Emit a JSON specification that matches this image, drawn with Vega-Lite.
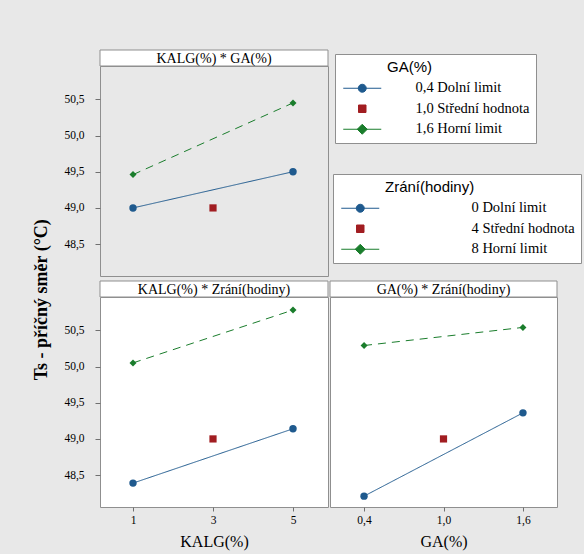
{
  "$schema": "https://vega.github.io/schema/vega-lite/v6.json",
  "padding": {"left": 33, "top": 49, "right": 2, "bottom": 4},
  "background": "#e8e8e8",
  "title": {"text": "Ts - příčný směr (°C)", "orient": "left", "anchor": "middle", "font": "Liberation Serif", "fontSize": 18, "fontWeight": "bold", "color": "black", "offset": 12},
  "datasets": {
    "kg": [
      {"KALG": 1, "GA": "0,4", "Ts": 49.0},
      {"KALG": 5, "GA": "0,4", "Ts": 49.5},
      {"KALG": 3, "GA": "1,0", "Ts": 49.0},
      {"KALG": 1, "GA": "1,6", "Ts": 49.46},
      {"KALG": 5, "GA": "1,6", "Ts": 50.45}
    ],
    "kz": [
      {"KALG": 1, "Zrani": "0", "Ts": 48.39},
      {"KALG": 5, "Zrani": "0", "Ts": 49.14},
      {"KALG": 3, "Zrani": "4", "Ts": 49.0},
      {"KALG": 1, "Zrani": "8", "Ts": 50.05},
      {"KALG": 5, "Zrani": "8", "Ts": 50.78}
    ],
    "gz": [
      {"GA": 0.4, "Zrani": "0", "Ts": 48.21},
      {"GA": 1.6, "Zrani": "0", "Ts": 49.36},
      {"GA": 1.0, "Zrani": "4", "Ts": 49.0},
      {"GA": 0.4, "Zrani": "8", "Ts": 50.29},
      {"GA": 1.6, "Zrani": "8", "Ts": 50.54}
    ],
    "galev": [{"GAlev": "0,4 Dolní limit"}, {"GAlev": "1,0 Střední hodnota"}, {"GAlev": "1,6 Horní limit"}],
    "zlev": [{"Zlev": "0 Dolní limit"}, {"Zlev": "4 Střední hodnota"}, {"Zlev": "8 Horní limit"}]
  },
  "resolve": {"scale": {"color": "independent", "fill": "independent", "shape": "independent", "strokeDash": "independent", "size": "independent"}},
  "spacing": 3,
  "config": {
    "view": {"stroke": "#8f8f8f", "fill": "white"},
    "axis": {"labelFont": "Liberation Serif", "titleFont": "Liberation Serif", "labelColor": "black", "titleColor": "black", "tickColor": "#707070", "domain": false, "grid": false, "titleFontWeight": "normal", "labelFontSize": 11.5, "titleFontSize": 16},
    "legend": {
      "direction": "vertical", "padding": 6, "strokeColor": "#8f8f8f", "fillColor": "white",
      "titleFont": "Liberation Sans", "titleFontSize": 15, "titleFontWeight": "normal", "titleColor": "black", "titlePadding": 6,
      "labelFont": "Liberation Serif", "labelFontSize": 14.5, "labelColor": "black", "labelLimit": 400,
      "symbolSize": 100, "symbolOffset": 14, "rowPadding": 5.5,
      "labelExpr": "replace(datum.value, ' ', '\u2002')"
    }
  },
  "vconcat": [
    {
      "bounds": "flush",
      "spacing": 0,
      "resolve": {"scale": {"color": "independent", "fill": "independent", "shape": "independent", "strokeDash": "independent", "size": "independent"}},
      "vconcat": [
        {
          "width": 228, "height": 16,
          "data": {"values": [{"t": "KALG(%) * GA(%)"}]},
          "layer": [
            {"mark": {"type": "rect", "fill": "white", "stroke": "#8f8f8f", "strokeWidth": 1}, "encoding": {}},
            {"mark": {"type": "text", "font": "Liberation Serif", "fontSize": 14, "baseline": "middle", "color": "black", "dy": 1}, "encoding": {"text": {"field": "t"}}}
          ]
        },
        {
          "width": 228, "height": 210,
          "resolve": {"scale": {"fill": "independent"}, "legend": {"fill": "independent"}},
          "layer": [
            {
              "data": {"name": "kg"},
              "mark": {"type": "line", "strokeWidth": 1},
              "encoding": {
                "x": {"field": "KALG", "type": "quantitative", "scale": {"domain": [0.175, 5.875], "nice": false, "zero": false}, "axis": null},
                "y": {"field": "Ts", "type": "quantitative", "scale": {"domain": [48.06, 50.96], "nice": false, "zero": false}, "axis": {"values": [48.5, 49, 49.5, 50, 50.5], "labelExpr": "replace(format(datum.value, '.1f'), '.', ',')", "title": null, "tickSize": 5, "labelPadding": 11}},
                "color": {"field": "GA", "type": "nominal", "scale": {"domain": ["0,4", "1,0", "1,6"], "range": ["#1f5a8e", "#a11d21", "#1a7d2c"]}, "legend": null},
                "strokeDash": {"field": "GA", "type": "nominal", "scale": {"domain": ["0,4", "1,0", "1,6"], "range": [[1, 0], [1, 0], [8, 6]]}, "legend": null}
              }
            },
            {
              "data": {"name": "kg"},
              "mark": {"type": "point", "filled": true, "opacity": 1},
              "encoding": {
                "x": {"field": "KALG", "type": "quantitative"},
                "y": {"field": "Ts", "type": "quantitative"},
                "color": {"field": "GA", "type": "nominal", "legend": null},
                "shape": {"field": "GA", "type": "nominal", "scale": {"domain": ["0,4", "1,0", "1,6"], "range": ["circle", "square", "diamond"]}, "legend": null},
                "size": {"field": "GA", "type": "nominal", "scale": {"domain": ["0,4", "1,0", "1,6"], "range": [55, 49, 120]}, "legend": null}
              }
            },
            {
              "data": {"name": "galev"},
              "mark": {"type": "point", "filled": true, "opacity": 0},
              "encoding": {
                "fill": {"field": "GAlev", "type": "nominal", "scale": {"domain": ["0,4 Dolní limit", "1,0 Střední hodnota", "1,6 Horní limit"], "range": ["#1f5a8e", "#a11d21", "#1a7d2c"]},
                  "legend": {
                    "title": "GA(%)", "orient": "none", "legendX": 235, "legendY": -12,
                    "labelOffset": 46,
                    "encode": {
                      "symbols": {"update": {
                        "shape": {"signal": "indexof(datum.value, 'Dolní') >= 0 ? 'M-3.8,0H3.8M-0.8,0A0.8,0.8,0,1,0,0.8,0A0.8,0.8,0,1,0,-0.8,0Z' : indexof(datum.value, 'Střední') >= 0 ? 'M-0.75,-0.75H0.75V0.75H-0.75Z' : 'M-3.8,0H3.8M-1,0L0,-1L1,0L0,1Z'"},
                        "fill": {"signal": "indexof(datum.value, 'Dolní') >= 0 ? '#1f5a8e' : indexof(datum.value, 'Střední') >= 0 ? '#a11d21' : '#1a7d2c'"},
                        "stroke": {"signal": "indexof(datum.value, 'Dolní') >= 0 ? '#1f5a8e' : indexof(datum.value, 'Střední') >= 0 ? '#a11d21' : '#1a7d2c'"},
                        "strokeWidth": {"value": 1},
                        "opacity": {"value": 1}
                      }},
                      "title": {"update": {"dx": {"value": 46}}}
                    }
                  }
                }
              }
            },
            {
              "data": {"name": "zlev"},
              "mark": {"type": "point", "filled": true, "opacity": 0},
              "encoding": {
                "fill": {"field": "Zlev", "type": "nominal", "scale": {"domain": ["0 Dolní limit", "4 Střední hodnota", "8 Horní limit"], "range": ["#1f5a8e", "#a11d21", "#1a7d2c"]},
                  "legend": {
                    "title": "Zrání(hodiny)", "orient": "none", "legendX": 233, "legendY": 108,
                    "labelOffset": 104,
                    "encode": {
                      "symbols": {"update": {
                        "shape": {"signal": "indexof(datum.value, 'Dolní') >= 0 ? 'M-3.8,0H3.8M-0.8,0A0.8,0.8,0,1,0,0.8,0A0.8,0.8,0,1,0,-0.8,0Z' : indexof(datum.value, 'Střední') >= 0 ? 'M-0.75,-0.75H0.75V0.75H-0.75Z' : 'M-3.8,0H3.8M-1,0L0,-1L1,0L0,1Z'"},
                        "fill": {"signal": "indexof(datum.value, 'Dolní') >= 0 ? '#1f5a8e' : indexof(datum.value, 'Střední') >= 0 ? '#a11d21' : '#1a7d2c'"},
                        "stroke": {"signal": "indexof(datum.value, 'Dolní') >= 0 ? '#1f5a8e' : indexof(datum.value, 'Střední') >= 0 ? '#a11d21' : '#1a7d2c'"},
                        "strokeWidth": {"value": 1},
                        "opacity": {"value": 1}
                      }},
                      "title": {"update": {"dx": {"value": 46}}}
                    }
                  }
                }
              }
            }
          ]
        }
      ]
    },
    {
      "spacing": 0,
      "resolve": {"scale": {"color": "independent", "fill": "independent", "shape": "independent", "strokeDash": "independent", "size": "independent"}},
      "hconcat": [
        {
          "bounds": "flush",
          "spacing": 0,
          "vconcat": [
            {
              "width": 228, "height": 16,
              "data": {"values": [{"t": "KALG(%) * Zrání(hodiny)"}]},
              "layer": [
                {"mark": {"type": "rect", "fill": "white", "stroke": "#8f8f8f", "strokeWidth": 1}, "encoding": {}},
                {"mark": {"type": "text", "font": "Liberation Serif", "fontSize": 14, "baseline": "middle", "color": "black", "dy": 1}, "encoding": {"text": {"field": "t"}}}
              ]
            },
            {
              "width": 228, "height": 210,
              "data": {"name": "kz"},
              "layer": [
                {
                  "mark": {"type": "line", "strokeWidth": 1},
                  "encoding": {
                    "x": {"field": "KALG", "type": "quantitative", "scale": {"domain": [0.175, 5.875], "nice": false, "zero": false}, "axis": {"values": [1, 3, 5], "format": "d", "title": "KALG(%)", "tickSize": 4, "labelPadding": 3, "titlePadding": 8}},
                    "y": {"field": "Ts", "type": "quantitative", "scale": {"domain": [48.06, 50.96], "nice": false, "zero": false}, "axis": {"values": [48.5, 49, 49.5, 50, 50.5], "labelExpr": "replace(format(datum.value, '.1f'), '.', ',')", "title": null, "tickSize": 5, "labelPadding": 11}},
                    "color": {"field": "Zrani", "type": "nominal", "scale": {"domain": ["0", "4", "8"], "range": ["#1f5a8e", "#a11d21", "#1a7d2c"]}, "legend": null},
                    "strokeDash": {"field": "Zrani", "type": "nominal", "scale": {"domain": ["0", "4", "8"], "range": [[1, 0], [1, 0], [8, 6]]}, "legend": null}
                  }
                },
                {
                  "mark": {"type": "point", "filled": true, "opacity": 1},
                  "encoding": {
                    "x": {"field": "KALG", "type": "quantitative"},
                    "y": {"field": "Ts", "type": "quantitative"},
                    "color": {"field": "Zrani", "type": "nominal", "legend": null},
                    "shape": {"field": "Zrani", "type": "nominal", "scale": {"domain": ["0", "4", "8"], "range": ["circle", "square", "diamond"]}, "legend": null},
                    "size": {"field": "Zrani", "type": "nominal", "scale": {"domain": ["0", "4", "8"], "range": [55, 49, 120]}, "legend": null}
                  }
                }
              ]
            }
          ]
        },
        {
          "bounds": "flush",
          "spacing": 0,
          "vconcat": [
            {
              "width": 227, "height": 16,
              "data": {"values": [{"t": "GA(%) * Zrání(hodiny)"}]},
              "layer": [
                {"mark": {"type": "rect", "fill": "white", "stroke": "#8f8f8f", "strokeWidth": 1}, "encoding": {}},
                {"mark": {"type": "text", "font": "Liberation Serif", "fontSize": 14, "baseline": "middle", "color": "black", "dy": 1}, "encoding": {"text": {"field": "t"}}}
              ]
            },
            {
              "width": 227, "height": 210,
              "data": {"name": "gz"},
              "layer": [
                {
                  "mark": {"type": "line", "strokeWidth": 1},
                  "encoding": {
                    "x": {"field": "GA", "type": "quantitative", "scale": {"domain": [0.143, 1.857], "nice": false, "zero": false}, "axis": {"values": [0.4, 1.0, 1.6], "labelExpr": "replace(format(datum.value, '.1f'), '.', ',')", "title": "GA(%)", "tickSize": 4, "labelPadding": 3, "titlePadding": 8}},
                    "y": {"field": "Ts", "type": "quantitative", "scale": {"domain": [48.06, 50.96], "nice": false, "zero": false}, "axis": null},
                    "color": {"field": "Zrani", "type": "nominal", "scale": {"domain": ["0", "4", "8"], "range": ["#1f5a8e", "#a11d21", "#1a7d2c"]}, "legend": null},
                    "strokeDash": {"field": "Zrani", "type": "nominal", "scale": {"domain": ["0", "4", "8"], "range": [[1, 0], [1, 0], [8, 6]]}, "legend": null}
                  }
                },
                {
                  "mark": {"type": "point", "filled": true, "opacity": 1},
                  "encoding": {
                    "x": {"field": "GA", "type": "quantitative"},
                    "y": {"field": "Ts", "type": "quantitative"},
                    "color": {"field": "Zrani", "type": "nominal", "legend": null},
                    "shape": {"field": "Zrani", "type": "nominal", "scale": {"domain": ["0", "4", "8"], "range": ["circle", "square", "diamond"]}, "legend": null},
                    "size": {"field": "Zrani", "type": "nominal", "scale": {"domain": ["0", "4", "8"], "range": [55, 49, 120]}, "legend": null}
                  }
                }
              ]
            }
          ]
        }
      ]
    }
  ]
}
